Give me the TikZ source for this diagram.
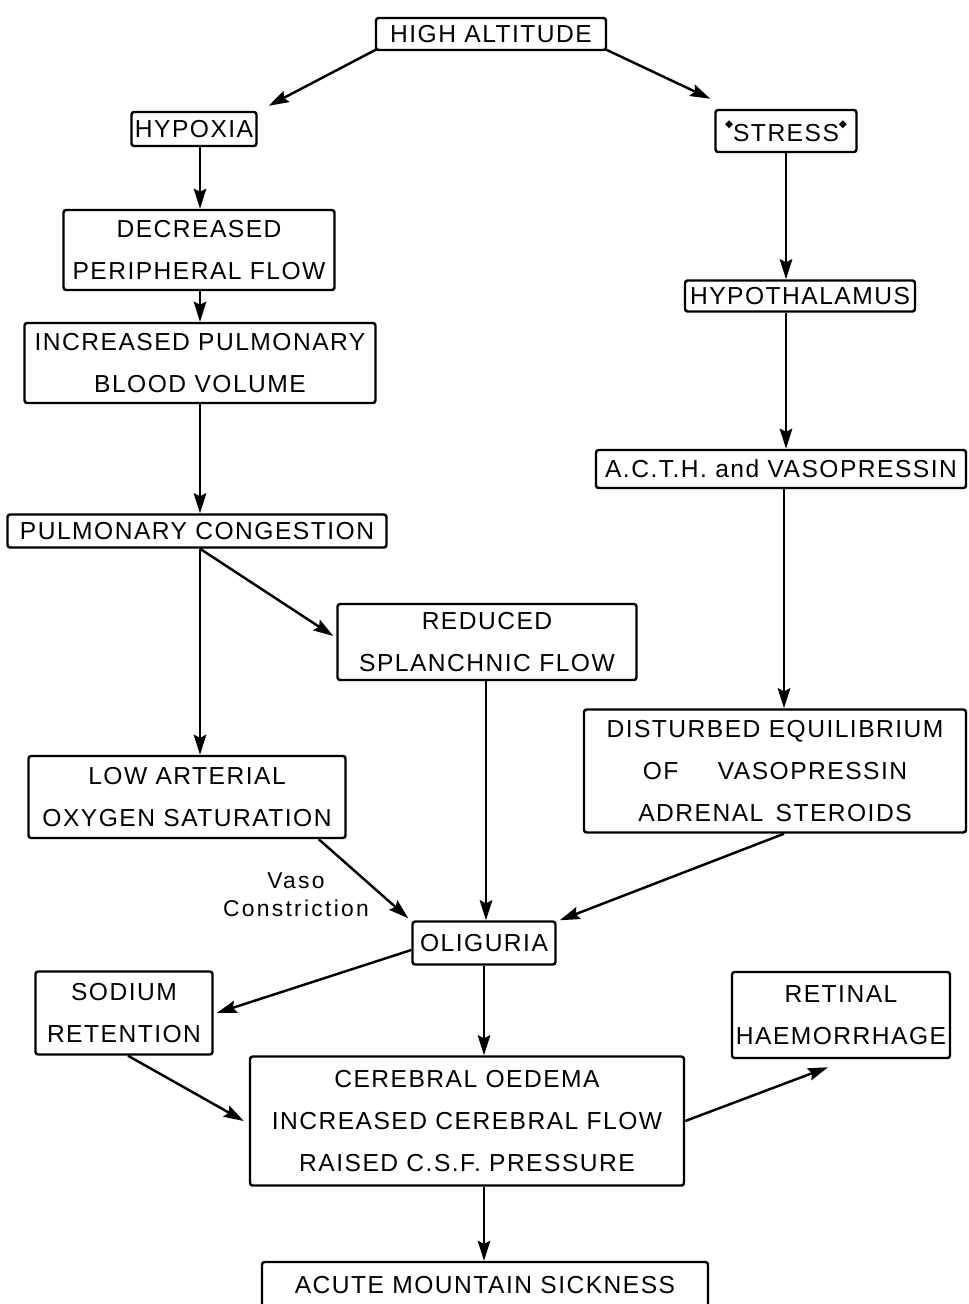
\documentclass[tikz,border=0pt]{standalone}
\usepackage{fontspec}
\setmainfont{Liberation Sans}[LetterSpace=6]
\newfontfamily\symfont{DejaVu Sans}
\usetikzlibrary{arrows.meta,calc}
\newcommand\strmark{\raisebox{1.1ex}{\symfont\fontsize{6}{6}\selectfont ◆}}
\begin{document}
\begin{tikzpicture}[x=0.02cm,y=-0.02cm,
  font=\fontsize{14}{24}\selectfont,
  box/.style 2 args={draw, line width=1.4pt, rounded corners=1.5pt, inner sep=0pt,
    align=center, minimum width=#1*0.02cm, minimum height=#2*0.02cm},
  arr/.style={line width=1.4pt, -{Stealth[length=0.4cm,width=0.25cm,inset=0.06cm]}},
  lbl/.style={align=center, inner sep=0pt, font=\fontsize{13}{16}\selectfont\addfontfeature{LetterSpace=10}}]
\useasboundingbox (0,0) rectangle (968,1304);
% nodes
\node[box={230}{32}] (ha) at (491,34) {HIGH ALTITUDE};
\node[box={125}{34}] (hyp) at (194,129) {HYPOXIA};
\node[box={141}{42}] (str) at (786,131) {\strmark STRESS\strmark};
\node[box={271}{80}] (dec) at (199,250) {DECREASED\\PERIPHERAL FLOW};
\node[box={351}{80}] (inc) at (200,363) {INCREASED PULMONARY\\BLOOD VOLUME};
\node[box={230}{31}] (hth) at (800,296) {HYPOTHALAMUS};
\node[box={370}{38}] (acth) at (781,469) {A.C.T.H. and VASOPRESSIN};
\node[box={379}{33}] (pc) at (197,531) {PULMONARY CONGESTION};
\node[box={299}{76}] (red) at (487,642) {REDUCED\\SPLANCHNIC FLOW};
\node[box={317}{82}] (low) at (187,797) {LOW ARTERIAL\\OXYGEN SATURATION};
\node[box={382}{123}] (dis) at (775,771) {DISTURBED EQUILIBRIUM\\OF\hspace{1.6em}VASOPRESSIN\\ADRENAL\hspace{0.5em}STEROIDS};
\node[box={143}{43}] (oli) at (484,943) {OLIGURIA};
\node[box={177}{83}] (sod) at (124,1013) {SODIUM\\RETENTION};
\node[box={218}{86}] (ret) at (841,1015) {RETINAL\\HAEMORRHAGE};
\node[box={434}{129}] (cer) at (467,1121) {CEREBRAL OEDEMA\\INCREASED CEREBRAL FLOW\\RAISED C.S.F. PRESSURE};
\node[box={446}{46}] (ams) at (485,1285) {ACUTE MOUNTAIN SICKNESS};
\node[lbl] (vaso) at (296,895) {Vaso\\Constriction};
% connectors
\draw[arr] ($(ha.south west)+(2,-2)$) -- ($(hyp.north east)+(11,-5)$);
\draw[arr] ($(ha.south east)+(-2,-2)$) -- ($(str.north west)+(-4,-10)$);
\draw[arr] ($(hyp.south)+(6,0)$) -- ($(dec.north)+(1,0)$);
\draw[arr] ($(dec.south)+(1,0)$) -- (inc.north);
\draw[arr] (inc.south) -- ($(pc.north)+(3,0)$);
\draw[arr] (str.south) -- ($(hth.north)+(-14,0)$);
\draw[arr] ($(hth.south)+(-14,0)$) -- ($(acth.north)+(5,0)$);
\draw[arr] ($(acth.south)+(3,0)$) -- ($(dis.north)+(9,0)$);
\draw[arr] ($(pc.south)+(3,0)$) -- ($(low.north)+(13,0)$);
\draw[arr] ($(pc.south)+(3,0)$) -- ($(red.west)+(-3,-6)$);
\draw[arr] ($(red.south)+(-1,0)$) -- ($(oli.north)+(2,0)$);
\draw[arr] ($(low.south east)+(-28,0)$) -- ($(oli.north west)+(-3,-2)$);
\draw[arr] ($(dis.south)+(9,0)$) -- ($(oli.north east)+(3,0)$);
\draw[arr] ($(oli.west)+(0,7)$) -- ($(sod.east)+(3,0)$);
\draw[arr] (oli.south) -- ($(cer.north)+(17,0)$);
\draw[arr] ($(sod.south)+(4,0)$) -- ($(cer.west)+(-5,0)$);
\draw[arr] (cer.east) -- ($(ret.south)+(-13,8)$);
\draw[arr] ($(cer.south)+(17,0)$) -- ($(ams.north)+(-1,0)$);
\end{tikzpicture}
\end{document}
